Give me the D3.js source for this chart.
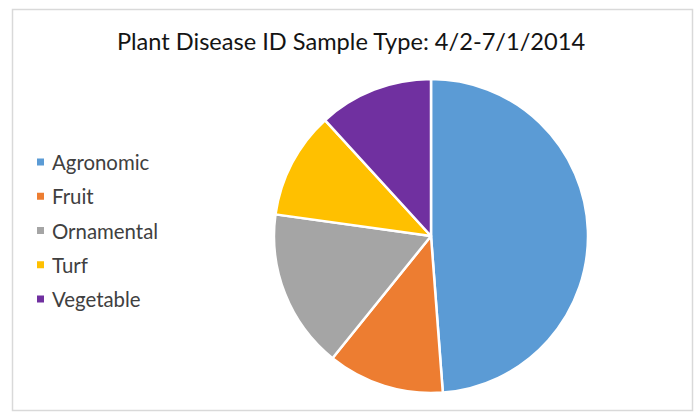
<!DOCTYPE html>
<html>
<head>
<meta charset="utf-8">
<script src="https://cdn.jsdelivr.net/npm/d3@7"></script>
<style>
  body { margin: 0; background: #fff; }
  svg { display: block; }
</style>
</head>
<body>
<div id="chart"></div>
<script>
// chart data (share of samples, %)
var categories = ["Agronomic", "Fruit", "Ornamental", "Turf", "Vegetable"];
var values = [48.8, 12.0, 16.4, 11.0, 11.8];
var colors = ["#5b9bd5", "#ed7d31", "#a5a5a5", "#ffc000", "#7030a0"];
var title = "Plant Disease ID Sample Type: 4/2-7/1/2014";

var w = 700;
var h = 413;

var svg = d3.select("#chart")
  .append("svg")
  .attr("width", w)
  .attr("height", h);

// chart area frame
svg.append("rect")
  .attr("x", 12.5)
  .attr("y", 9.5)
  .attr("width", 680)
  .attr("height", 401)
  .attr("fill", "#fff")
  .attr("stroke", "#d9d9d9")
  .attr("stroke-width", 1.5);

svg.append("text")
  .attr("x", 351)
  .attr("y", 50)
  .attr("text-anchor", "middle")
  .attr("font-family", "Lato, 'Open Sans', sans-serif")
  .attr("font-size", "23.6px")
  .attr("fill", "#141414")
  .text(title);

// pie
var cx = 431, cy = 236, r = 157;
var pie = d3.pie().sort(null).value(function(d) { return d; });
var arc = d3.arc().innerRadius(0).outerRadius(r);
var color = d3.scaleOrdinal().domain(categories).range(colors);

var g = svg.append("g").attr("transform", "translate(" + cx + "," + cy + ")");
g.selectAll("path")
  .data(pie(values))
  .enter()
  .append("path")
  .attr("d", arc)
  .attr("fill", function(d, i) { return color(categories[i]); })
  .attr("stroke", "#fff")
  .attr("stroke-width", 2.5)
  .attr("stroke-linejoin", "round");

// legend
var legendY = d3.scalePoint().domain(categories).range([162, 299]);
var legend = svg.selectAll(".legend")
  .data(categories)
  .enter()
  .append("g")
  .attr("class", "legend")
  .attr("transform", function(d) { return "translate(37," + legendY(d) + ")"; });

legend.append("rect")
  .attr("x", 0)
  .attr("y", -3.5)
  .attr("width", 7)
  .attr("height", 7)
  .attr("fill", function(d) { return color(d); });

legend.append("text")
  .attr("x", 15)
  .attr("y", 8)
  .attr("font-family", "Lato, 'Open Sans', sans-serif")
  .attr("font-size", "20.4px")
  .attr("fill", "#404040")
  .text(function(d) { return d; });
</script>
</body>
</html>
